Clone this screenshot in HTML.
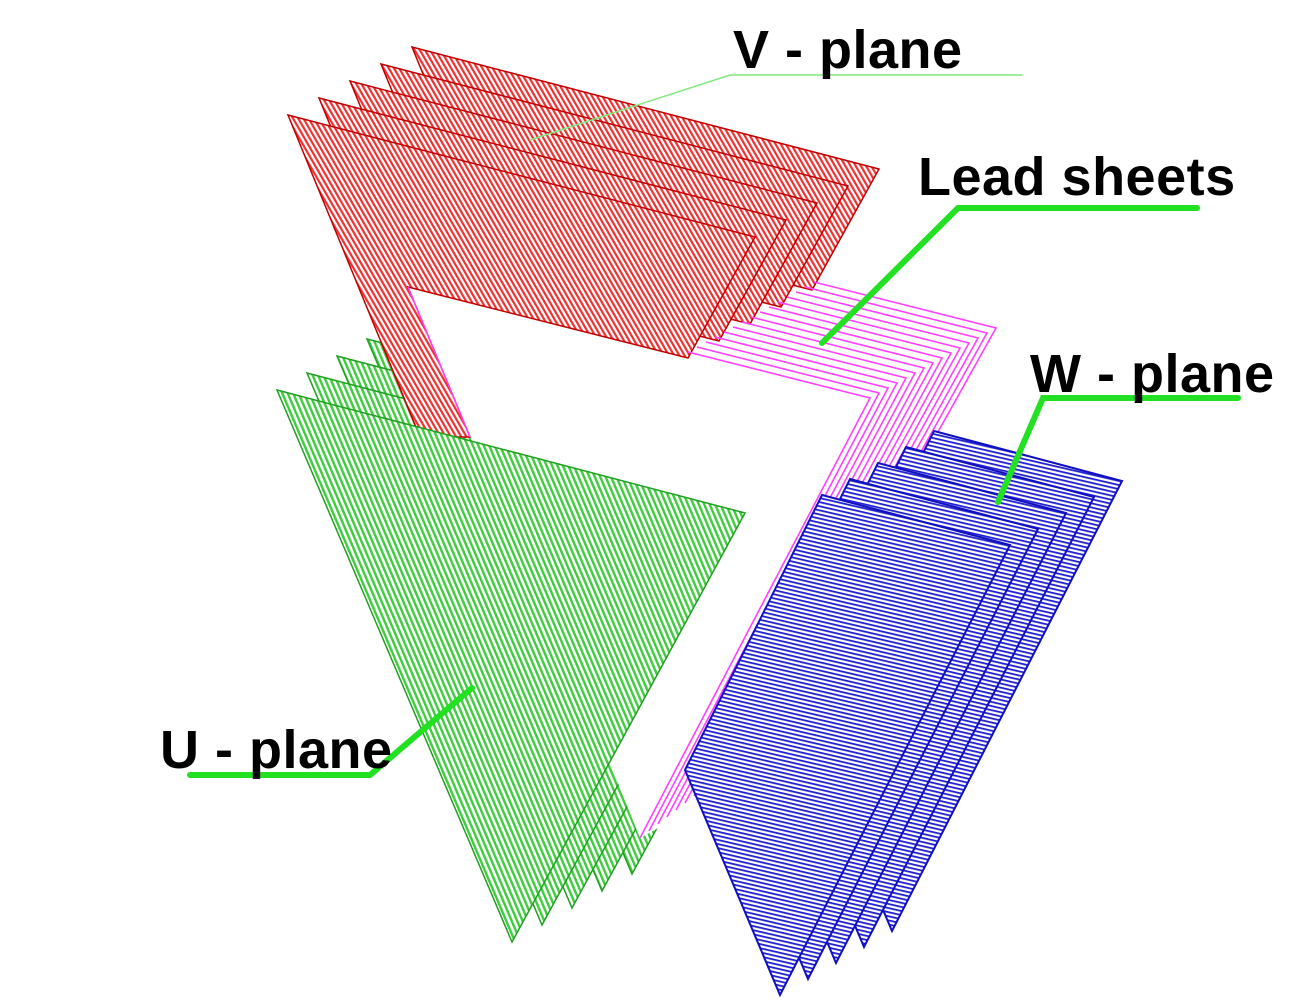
<!DOCTYPE html>
<html><head><meta charset="utf-8"><style>
html,body{margin:0;padding:0;background:#fff;}
svg{display:block}
text{font-family:"Liberation Sans",sans-serif;font-weight:bold;font-size:54px;letter-spacing:0.5px;fill:#000}
</style></head><body>
<svg width="1290" height="1008" viewBox="0 0 1290 1008">
<defs>
<pattern id="hr" width="4.5" height="10" patternUnits="userSpaceOnUse" patternTransform="rotate(-30)"><rect width="4.5" height="10" fill="#fff"/><rect width="2.2" height="10" fill="#f03030"/></pattern>
<pattern id="hg" width="5" height="10" patternUnits="userSpaceOnUse" patternTransform="rotate(-23)"><rect width="5" height="10" fill="#fff"/><rect width="2.4" height="10" fill="#3ccc3c"/></pattern>
<pattern id="hb" width="10" height="4" patternUnits="userSpaceOnUse" patternTransform="rotate(13)"><rect width="10" height="4" fill="#fff"/><rect width="10" height="1.8" fill="#2020d0"/></pattern>
</defs>
<g id="greenback"></g>
<polygon points="700,340 805,275 1005,322 700,805 640,838 870,398" fill="#fff"/>
<g id="redback"></g>
<polygon points="408,287 688,358 870,398 640,838 612,768 470,437" fill="#fff"/>
<g id="red"></g>
<g id="mag"></g>
<g id="green"></g>
<g id="blue"></g>
<g fill="none" stroke="#22e022" stroke-linecap="round">
<polyline points="530,140 730,75 1022,75" stroke="#7fe87f" stroke-width="1.5"/>
<polyline points="822,343 958,208 1197,208" stroke-width="6"/>
<polyline points="998,502 1043,398 1238,398" stroke-width="6"/>
<polyline points="472,688 370,775 190,775" stroke-width="6"/>
</g>
<text x="733" y="68">V - plane</text>
<text x="918" y="195">Lead sheets</text>
<text x="1030" y="392">W - plane</text>
<text x="160" y="768">U - plane</text>
</svg>
<script>
const NS='http://www.w3.org/2000/svg';
function poly(g,pts,dx,dy,fill,stroke,sw){
  const p=document.createElementNS(NS,'polygon');
  
  
  p.setAttribute('points',pts.map(q=>(q[0]+dx)+','+(q[1]+dy)).join(' '));
  p.setAttribute('fill',fill);p.setAttribute('stroke',stroke);p.setAttribute('stroke-width',sw);
  g.appendChild(p);
}
const green=[[277,390],[745,513],[512,942]];
const ggb=document.getElementById('greenback');
for(let i=4;i>=1;i--) poly(ggb,green,30*i,-17*i,'url(#hg)','#20a020',1.5);
const red=[[288,115],[755,237],[688,358],[408,287],[470,437],[420,437]];
const rgb=document.getElementById('redback');
for(let i=4;i>=1;i--) poly(rgb,red,31*i,-17*i,'url(#hr)','#c00000',1.5);
poly(document.getElementById('red'),red,0,0,'url(#hr)','#c00000',1.5);
const mg=document.getElementById('mag');
for(let i=14;i>=0;i--){
  const l=document.createElementNS(NS,'polyline');
  
  
  const dx=9*i,dy=-5*i;
  l.setAttribute('points',[[688+dx,352+dy],[870+dx,398+dy],[640+9*i,838-7*i]].map(q=>q.join(',')).join(' '));
  l.setAttribute('fill','none');l.setAttribute('stroke','#ff40ff');l.setAttribute('stroke-width','1.6');
  mg.appendChild(l);
}
const ml=document.createElementNS(NS,'line');


ml.setAttribute('x1',408);ml.setAttribute('y1',287);ml.setAttribute('x2',470);ml.setAttribute('y2',437);
ml.setAttribute('stroke','#ff40ff');ml.setAttribute('stroke-width','1.5');mg.appendChild(ml);
poly(document.getElementById('green'),green,0,0,'url(#hg)','#20a020',1.5);
const blue=[[822,495],[1010,545],[780,995],[685,770]];
const bg=document.getElementById('blue');
for(let i=4;i>=0;i--) poly(bg,blue,28*i,-16*i,'url(#hb)','#1010c0',2);
</script>
</body></html>
